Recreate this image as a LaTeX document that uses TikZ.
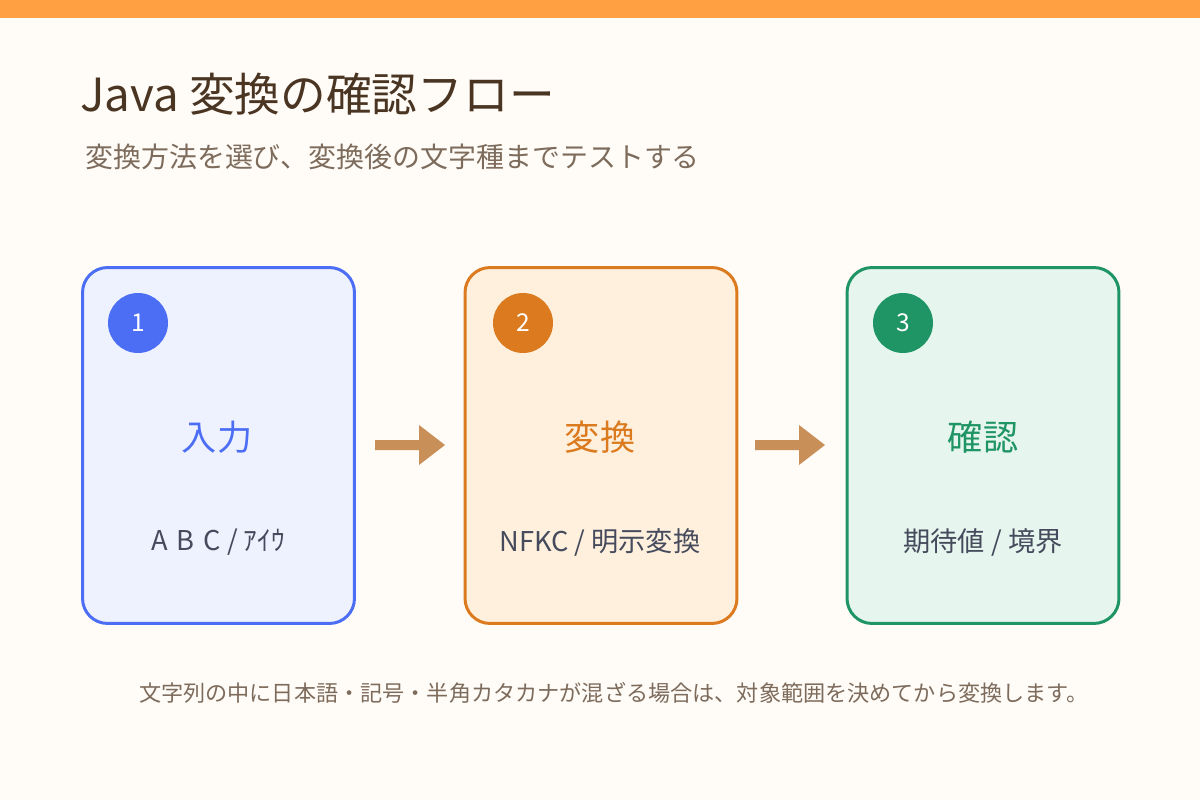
\documentclass[tikz,border=0pt]{standalone}
\usepackage{fontspec}
\setmainfont{Noto Sans CJK JP}
\usetikzlibrary{backgrounds}
\definecolor{paper}{HTML}{FFFCF7}
\definecolor{topbar}{HTML}{FFA042}
\definecolor{ink}{HTML}{4A3422}
\definecolor{muted}{HTML}{7D6B5C}
\definecolor{bluec}{HTML}{4C6EF5}
\definecolor{bluef}{HTML}{EEF2FF}
\definecolor{orangec}{HTML}{DB7A1E}
\definecolor{orangef}{HTML}{FFF0DD}
\definecolor{greenc}{HTML}{1F9464}
\definecolor{greenf}{HTML}{E6F6EE}
\definecolor{arrowc}{HTML}{C98F58}
\definecolor{textc}{HTML}{454B5C}
\tikzset{
	card/.style={rounded corners=0.5cm, line width=0.06cm, minimum width=5.44cm, minimum height=7.12cm, inner sep=0},
	badge/.style={circle, minimum size=1.2cm, inner sep=0, text=white, font=\fontsize{14}{16}\selectfont},
	head/.style={font=\fontsize{20}{22}\selectfont},
	sub/.style={text=textc, font=\fontsize{15.5}{17}\selectfont},
}
\begin{document}
\begin{tikzpicture}[x=0.02cm,y=-0.02cm]
	\useasboundingbox (0,0) rectangle (1200,800);
	\fill[paper] (0,0) rectangle (1200,800);
	\fill[topbar] (0,0) rectangle (1200,18);
	%
	\node[anchor=base west, inner sep=0, text=ink, font=\fontsize{26}{30}\selectfont] (title) at (80,112) {Java 変換の確認フロー};
	\node[anchor=base west, inner sep=0, text=muted, font=\fontsize{15.9}{18}\selectfont] (subtitle) at (85,168) {変換方法を選び、変換後の文字種までテストする};
	%
	\node[card, draw=bluec, fill=bluef] (c1) at (218.5,445.5) {};
	\node[card, draw=orangec, fill=orangef] (c2) at (601,445.5) {};
	\node[card, draw=greenc, fill=greenf] (c3) at (983,445.5) {};
	%
	\node[badge, fill=bluec] (b1) at (138,323) {1};
	\node[badge, fill=orangec] (b2) at (523,323) {2};
	\node[badge, fill=greenc] (b3) at (903,323) {3};
	%
	\node[head, text=bluec] (h1) at (217,437) {入力};
	\node[head, text=orangec] (h2) at (600,437) {変換};
	\node[head, text=greenc] (h3) at (983,437) {確認};
	%
	\node[sub] (s1) at (218,542) {A\,\,B\,\,C / ｱｲｳ};
	\node[sub] (s2) at (600,542) {NFKC / 明示変換};
	\node[sub] (s3) at (983,542) {期待値 / 境界};
	%
	\coordinate (a1s) at (375,445); \coordinate (a1e) at (445,445);
	\coordinate (a2s) at (755,445); \coordinate (a2e) at (825,445);
	\foreach \s/\e in {a1s/a1e,a2s/a2e}{
		\fill[arrowc] (\s) ++(0,-5) -- ++(44,0) -- ++(0,-15) -- (\e) -- ++(-26,20) -- ++(0,-15) -- ++(-44,0) -- cycle;
	}
	%
	\node[text=muted, font=\fontsize{12.6}{14}\selectfont] (note) at (614,693) {文字列の中に日本語・記号・半角カタカナが混ざる場合は、対象範囲を決めてから変換します。};
\end{tikzpicture}
\end{document}
